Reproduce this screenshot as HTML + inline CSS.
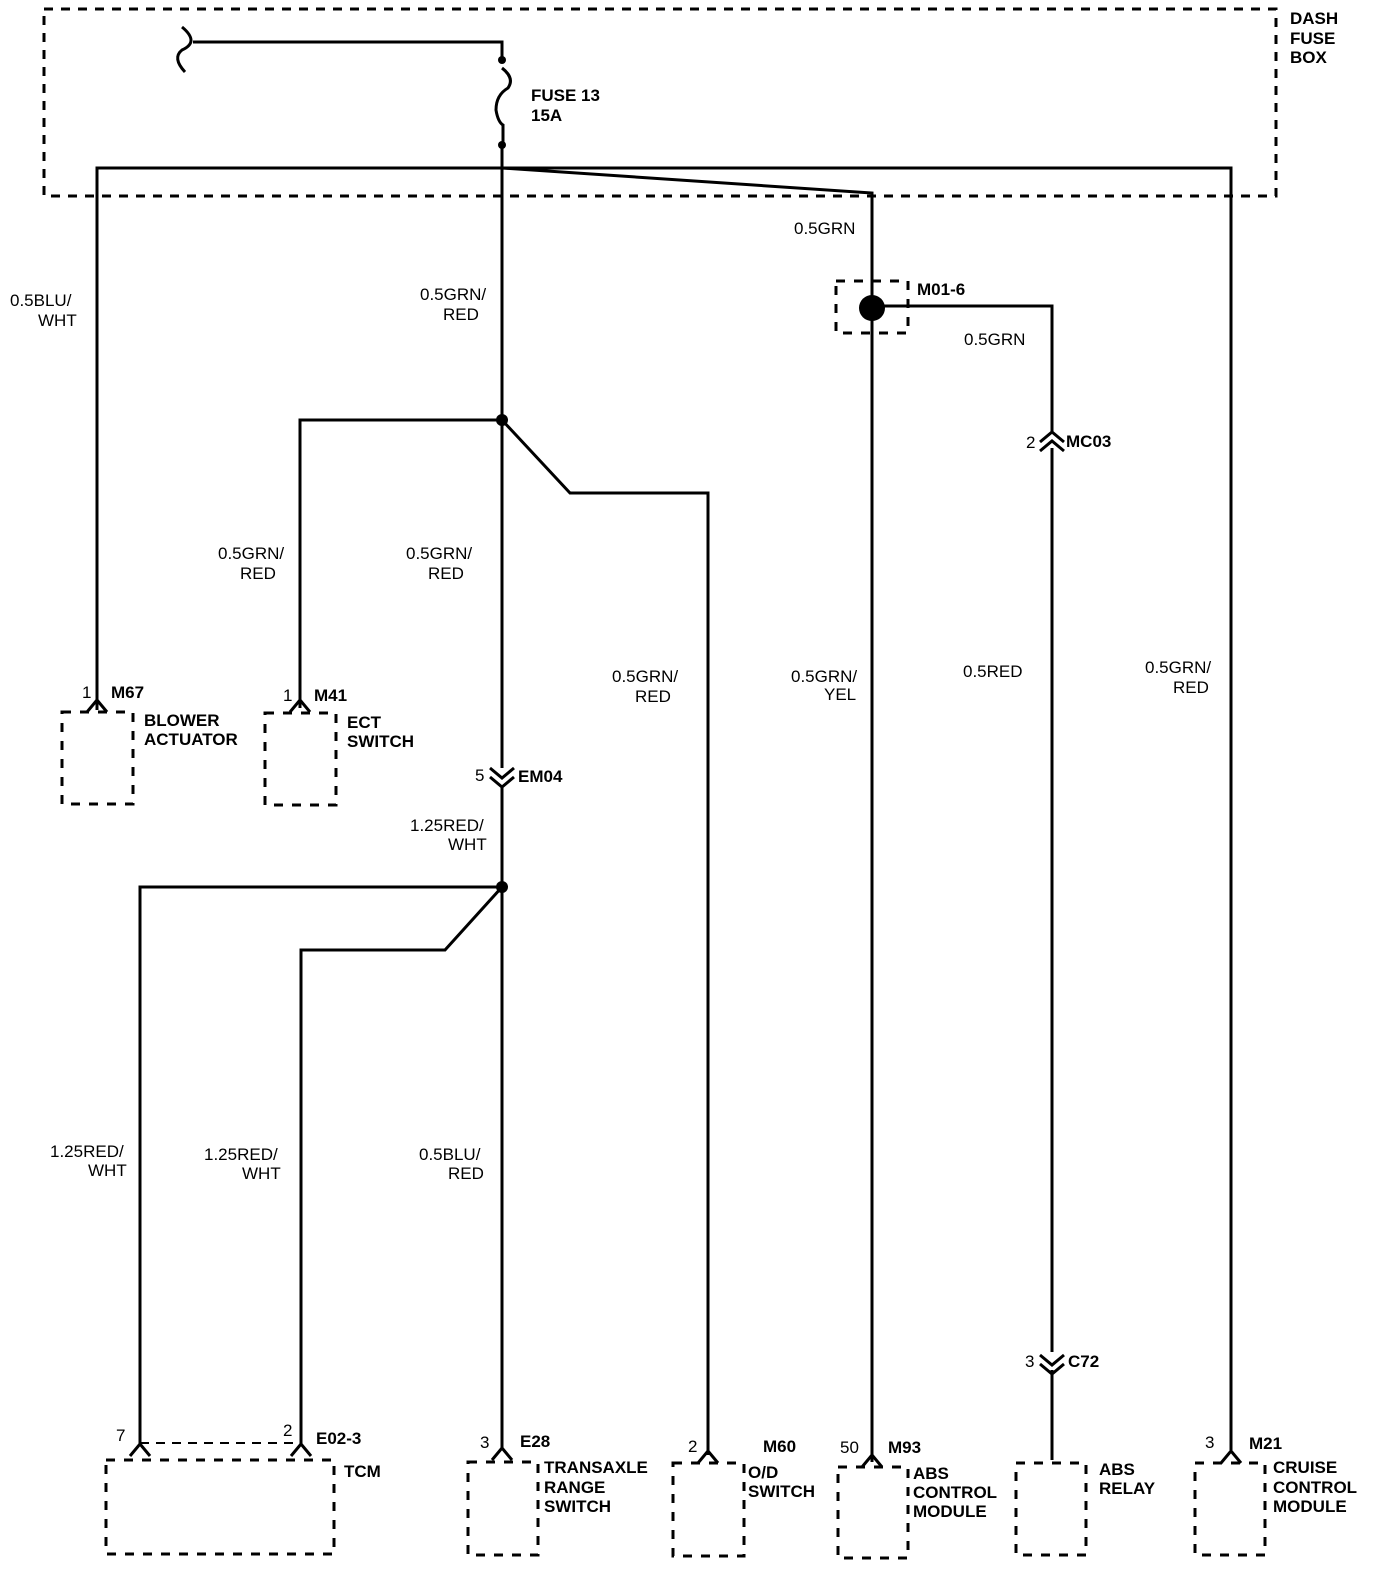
<!DOCTYPE html>
<html><head><meta charset="utf-8"><style>
html,body{margin:0;padding:0;background:#fff;}
svg{display:block;}
text{font-family:"Liberation Sans",sans-serif;fill:#000;}
.b{font-weight:bold;font-size:17px;}
.w{font-size:17px;}
</style></head><body>
<svg width="1392" height="1578" viewBox="0 0 1392 1578" xmlns="http://www.w3.org/2000/svg">
<g fill="none" stroke="#000">
<!-- fuse box -->
<rect x="44" y="9" width="1232" height="187" stroke-width="3" stroke-dasharray="9,8"/>
<g stroke-width="3">
<path d="M182,27 Q200,42 182,50 Q172,58 185,72"/>
<path d="M193,42 H502 V60"/>
<path d="M502,68 Q515,78 508,88 Q496,95 496,110 Q498,122 503,125 V145"/>
<path d="M502,145 V420"/>
<path d="M97,710 V168 H1231 V1450"/>
<path d="M502,168 L872,193 V1462"/>
<!-- junction 420 -->
<path d="M502,420 H300 V708"/>
<path d="M502,420 L570,493 H708 V1455"/>
<path d="M502,420 V768"/>
<path d="M502,786 V1450"/>
<!-- junction 887 -->
<path d="M502,887 H140 V1445"/>
<path d="M502,887 L445,950 H301 V1445"/>
<!-- M01-6 -->
<path d="M872,306 H1052 V432"/>
<path d="M1052,448 V1352"/>
<path d="M1052,1370 V1460"/>
<!-- connectors: inverted V -->
<path d="M87,712 L97,700 L107,712"/>
<path d="M290,712 L300,700 L310,712"/>
<path d="M130,1456 L140,1444 L150,1456"/>
<path d="M291,1456 L301,1444 L311,1456"/>
<path d="M492,1460 L502,1448 L512,1460"/>
<path d="M698,1463 L708,1451 L718,1463"/>
<path d="M862,1467 L872,1455 L882,1467"/>
<path d="M1221,1463 L1231,1451 L1241,1463"/>
<!-- double chevrons -->
<path d="M490,768 L502,778 L514,768 M490,777 L502,787 L514,777"/>
<path d="M1040,1355 L1052,1365 L1064,1355 M1040,1364 L1052,1374 L1064,1364"/>
<path d="M1040,442 L1052,432 L1064,442 M1040,451 L1052,441 L1064,451"/>
</g>
<path d="M140,1443 H301" stroke-width="2" stroke-dasharray="9,7"/>
<!-- component boxes -->
<g stroke-width="3" stroke-dasharray="9,9">
<rect x="62" y="712" width="71" height="92"/>
<rect x="265" y="713" width="71" height="92"/>
<rect x="106" y="1460" width="228" height="94"/>
<rect x="468" y="1462" width="70" height="93"/>
<rect x="673" y="1463" width="71" height="93"/>
<rect x="838" y="1467" width="70" height="91"/>
<rect x="1016" y="1463" width="70" height="92"/>
<rect x="1195" y="1463" width="70" height="92"/>
<rect x="836" y="281" width="72" height="52"/>
</g>
</g>
<g fill="#000">
<circle cx="502" cy="60" r="4"/><circle cx="502" cy="145" r="4"/>
<circle cx="502" cy="420" r="6"/><circle cx="502" cy="887" r="6"/>
<circle cx="872" cy="308" r="13"/>
</g>
<!-- labels -->
<text class="b" x="1290" y="24">DASH</text>
<text class="b" x="1290" y="44">FUSE</text>
<text class="b" x="1290" y="63">BOX</text>
<text class="b" x="531" y="101">FUSE 13</text>
<text class="b" x="531" y="121">15A</text>
<text class="w" x="794" y="234">0.5GRN</text>
<text class="b" x="917" y="295">M01-6</text>
<text class="w" x="964" y="345">0.5GRN</text>
<text class="w" x="1026" y="448">2</text>
<text class="b" x="1066" y="447">MC03</text>
<text class="w" x="10" y="306">0.5BLU/</text>
<text class="w" x="38" y="326">WHT</text>
<text class="w" x="420" y="300">0.5GRN/</text>
<text class="w" x="443" y="320">RED</text>
<text class="w" x="218" y="559">0.5GRN/</text>
<text class="w" x="240" y="579">RED</text>
<text class="w" x="406" y="559">0.5GRN/</text>
<text class="w" x="428" y="579">RED</text>
<text class="w" x="612" y="682">0.5GRN/</text>
<text class="w" x="635" y="702">RED</text>
<text class="w" x="791" y="682">0.5GRN/</text>
<text class="w" x="824" y="700">YEL</text>
<text class="w" x="963" y="677">0.5RED</text>
<text class="w" x="1145" y="673">0.5GRN/</text>
<text class="w" x="1173" y="693">RED</text>
<text class="w" x="82" y="698">1</text>
<text class="b" x="111" y="698">M67</text>
<text class="b" x="144" y="726">BLOWER</text>
<text class="b" x="144" y="745">ACTUATOR</text>
<text class="w" x="283" y="701">1</text>
<text class="b" x="314" y="701">M41</text>
<text class="b" x="347" y="728">ECT</text>
<text class="b" x="347" y="747">SWITCH</text>
<text class="w" x="475" y="781">5</text>
<text class="b" x="518" y="782">EM04</text>
<text class="w" x="410" y="831">1.25RED/</text>
<text class="w" x="448" y="850">WHT</text>
<text class="w" x="50" y="1157">1.25RED/</text>
<text class="w" x="88" y="1176">WHT</text>
<text class="w" x="204" y="1160">1.25RED/</text>
<text class="w" x="242" y="1179">WHT</text>
<text class="w" x="419" y="1160">0.5BLU/</text>
<text class="w" x="448" y="1179">RED</text>
<text class="w" x="1025" y="1367">3</text>
<text class="b" x="1068" y="1367">C72</text>
<text class="w" x="116" y="1441">7</text>
<text class="w" x="283" y="1436">2</text>
<text class="b" x="316" y="1444">E02-3</text>
<text class="b" x="344" y="1477">TCM</text>
<text class="w" x="480" y="1448">3</text>
<text class="b" x="520" y="1447">E28</text>
<text class="b" x="544" y="1473">TRANSAXLE</text>
<text class="b" x="544" y="1493">RANGE</text>
<text class="b" x="544" y="1512">SWITCH</text>
<text class="w" x="688" y="1452">2</text>
<text class="b" x="763" y="1452">M60</text>
<text class="b" x="748" y="1478">O/D</text>
<text class="b" x="748" y="1497">SWITCH</text>
<text class="w" x="840" y="1453">50</text>
<text class="b" x="888" y="1453">M93</text>
<text class="b" x="913" y="1479">ABS</text>
<text class="b" x="913" y="1498">CONTROL</text>
<text class="b" x="913" y="1517">MODULE</text>
<text class="b" x="1099" y="1475">ABS</text>
<text class="b" x="1099" y="1494">RELAY</text>
<text class="w" x="1205" y="1448">3</text>
<text class="b" x="1249" y="1449">M21</text>
<text class="b" x="1273" y="1473">CRUISE</text>
<text class="b" x="1273" y="1493">CONTROL</text>
<text class="b" x="1273" y="1512">MODULE</text>
</svg>
</body></html>
